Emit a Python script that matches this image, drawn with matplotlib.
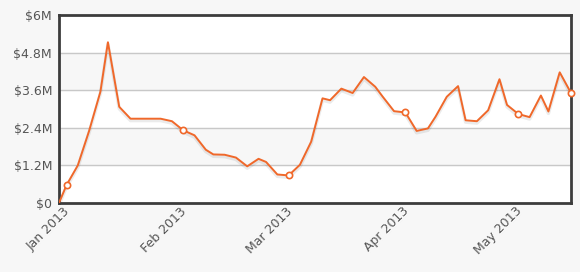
import matplotlib
matplotlib.use("Agg")
import matplotlib.pyplot as plt
import matplotlib.dates as mdates
import matplotlib.transforms as mtransforms
import numpy as np
import pandas as pd

# --- datos ---
fechas = ['2012-12-30', '2013-01-01', '2013-01-04', '2013-01-07', '2013-01-10',
          '2013-01-12', '2013-01-15', '2013-01-18', '2013-01-21', '2013-01-24',
          '2013-01-26', '2013-01-29', '2013-02-01', '2013-02-04', '2013-02-07',
          '2013-02-09', '2013-02-12', '2013-02-15', '2013-02-18', '2013-02-21',
          '2013-02-23', '2013-02-26', '2013-03-01', '2013-03-04', '2013-03-07',
          '2013-03-10', '2013-03-12', '2013-03-15', '2013-03-18', '2013-03-21',
          '2013-03-24', '2013-03-26', '2013-03-29', '2013-04-01', '2013-04-04',
          '2013-04-07', '2013-04-09', '2013-04-12', '2013-04-15', '2013-04-17',
          '2013-04-20', '2013-04-23', '2013-04-26', '2013-04-28', '2013-05-01',
          '2013-05-04', '2013-05-07', '2013-05-09', '2013-05-12', '2013-05-15']
valores = [0.00, 0.57, 1.20, 2.30, 3.55, 5.13, 3.07, 2.69, 2.69, 2.69,
           2.69, 2.61, 2.32, 2.16, 1.70, 1.55, 1.54, 1.45, 1.17, 1.41,
           1.31, 0.91, 0.88, 1.22, 1.96, 3.34, 3.28, 3.65, 3.51, 4.02,
           3.71, 3.39, 2.93, 2.89, 2.30, 2.38, 2.75, 3.39, 3.73, 2.64,
           2.61, 2.96, 3.95, 3.13, 2.84, 2.74, 3.43, 2.92, 4.17, 3.51]  # millones
ticks_y = [0, 1.2, 2.4, 3.6, 4.8, 6.0]
etiquetas_y = ['$0', '$1.2M', '$2.4M', '$3.6M', '$4.8M', '$6M']

fechas = pd.to_datetime(fechas)
valores = np.array(valores)

# primer punto de cada mes y el ultimo llevan marcador
meses = fechas.to_period('M')
marcas = [i for i in range(1, len(fechas)) if meses[i] != meses[i - 1]] + [len(fechas) - 1]

naranja = '#f0682a'
fondo = '#f7f7f7'

fig = plt.figure(figsize=(5.8, 2.72), dpi=100, facecolor=fondo)
ax = fig.add_axes([0.1017, 0.2537, 0.8828, 0.6912])
ax.set_facecolor('white')

# bandas alternas
for i in range(len(ticks_y) - 1):
    if i % 2 == 1:
        ax.axhspan(ticks_y[i], ticks_y[i + 1], color=fondo, zorder=0)
for t in ticks_y[1:-1]:
    ax.axhline(t, color='#c8c8c8', lw=1, zorder=1)

# sombra de la linea
ax.plot(fechas, valores - 0.06, color='#000000', alpha=0.08, lw=2.5, zorder=2)
ax.plot(fechas, valores, color=naranja, lw=1.4, zorder=3)
ax.plot(fechas[marcas], valores[marcas], 'o', ms=4.5, mfc='white', mec=naranja,
        mew=1.2, zorder=4, clip_on=False)

ax.set_xlim(fechas[0], fechas[-1])
ax.set_ylim(0, 6)
ax.set_yticks(ticks_y)
ax.set_yticklabels(etiquetas_y)
ax.xaxis.set_major_locator(mdates.MonthLocator())
ax.xaxis.set_major_formatter(mdates.DateFormatter('%b %Y'))
ax.tick_params(axis='both', length=0, colors='#555555', labelsize=9)
ax.tick_params(axis='y', pad=5)
ax.tick_params(axis='x', pad=2)
desplaza = mtransforms.ScaledTranslation(-3 / 100, 1 / 100, fig.dpi_scale_trans)
for lab in ax.get_xticklabels():
    lab.set_rotation(45)
    lab.set_ha('right')
    lab.set_rotation_mode('anchor')
    lab.set_transform(lab.get_transform() + desplaza)

for s in ax.spines.values():
    s.set_color('#3c3c3c')
    s.set_linewidth(2)

fig.savefig('out.png', dpi=100, facecolor=fondo)
